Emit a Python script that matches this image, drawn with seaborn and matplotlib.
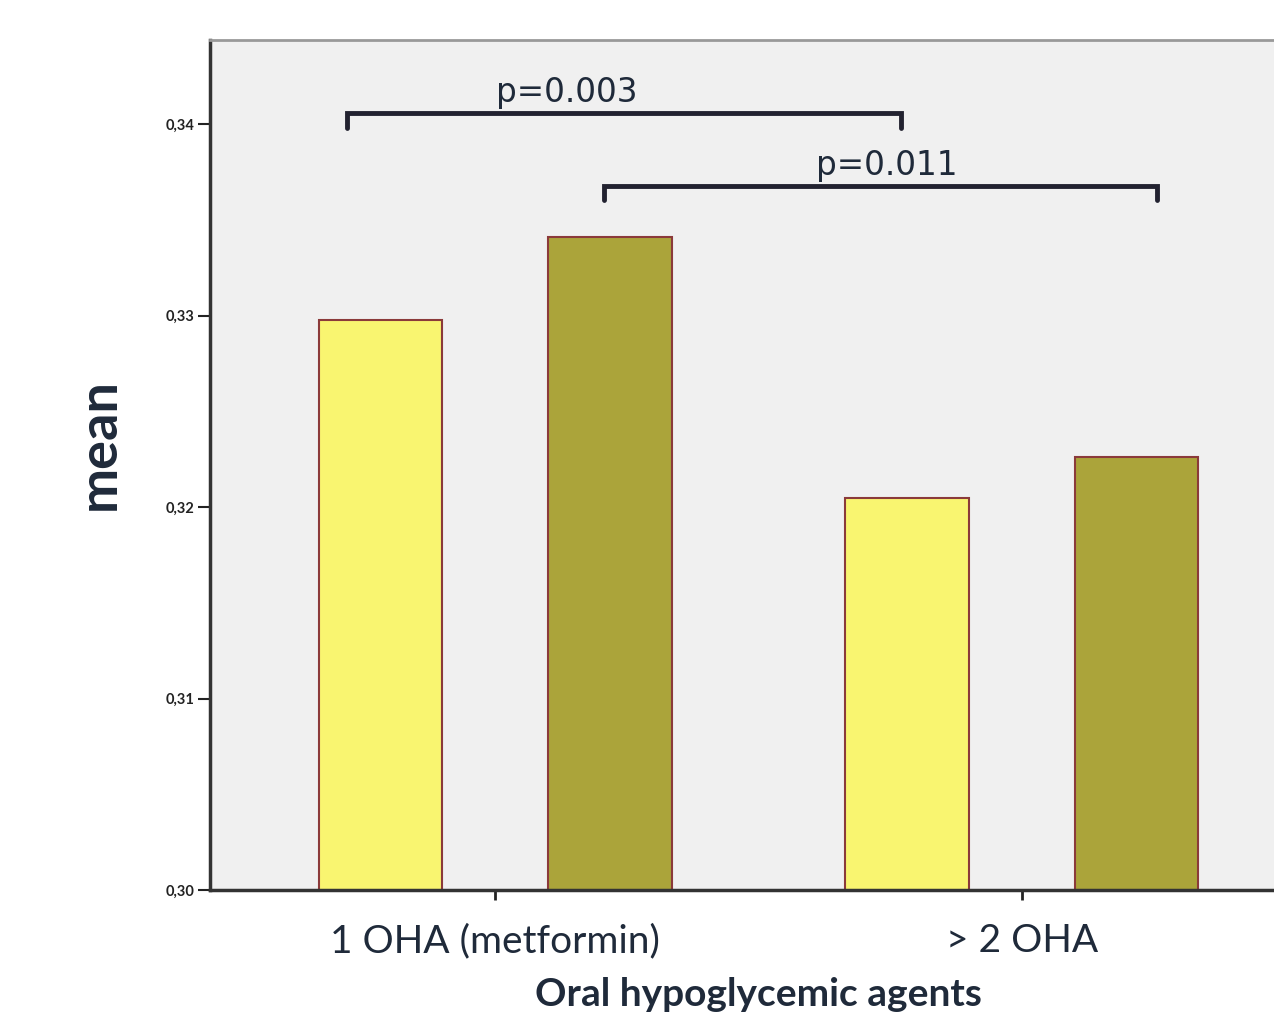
import pandas as pd
import seaborn as sns
import matplotlib.pyplot as plt

# values
groups = ['1 OHA (metformin)', '> 2 OHA']
series = ['A', 'B']
means_a = [0.3298, 0.3205]
means_b = [0.3341, 0.3226]
y_ticks = [0.30, 0.31, 0.32, 0.33, 0.34]
y_tick_labels = ['0,30', '0,31', '0,32', '0,33', '0,34']
p_labels = ['p=0.003', 'p=0.011']

df = pd.DataFrame({
    'group': groups * 2,
    'series': [series[0]] * 2 + [series[1]] * 2,
    'mean': means_a + means_b,
})

sns.set_style('white')
plt.rcParams['font.family'] = ['Lato', 'DejaVu Sans']

fig = plt.figure(figsize=(12.74, 10.23), dpi=100)
ax = fig.add_axes([210 / 1274, 133 / 1023, 1097 / 1274, 850 / 1023])
ax.set_facecolor('#f0f0f0')

sns.barplot(data=df, x='group', y='mean', hue='series', order=groups,
            hue_order=series, palette=['#f9f570', '#aba43a'], saturation=1,
            width=0.87, gap=0.46, edgecolor='#8b3a3a', linewidth=1.5,
            legend=False, ax=ax)

ax.set_ylim(0.30, 0.3444)
ax.set_xlim(-0.541, 1.541)
ax.set_yticks(y_ticks)
ax.set_yticklabels(y_tick_labels, fontsize=10.5, color='#222222', fontweight='bold')
ax.tick_params(axis='y', direction='out', length=9, width=1.5, color='#222222', pad=2, left=True)
ax.tick_params(axis='x', direction='out', length=7, width=2, color='#222222', labelsize=28,
               labelcolor='#1f2a3a', pad=17, bottom=True)

for side in ['left', 'bottom']:
    ax.spines[side].set_color('#333333')
    ax.spines[side].set_linewidth(2.5)
ax.spines['top'].set_color('#999999')
ax.spines['top'].set_linewidth(2)
ax.spines['right'].set_visible(False)

ax.set_xlabel('Oral hypoglycemic agents', fontsize=28, fontweight='bold', color='#1f2a3a', labelpad=13)
ax.set_ylabel('mean', fontsize=39, fontweight='bold', color='#1f2a3a')
ax.yaxis.set_label_coords(-0.079, 0.525)

# significance brackets
brackets = [(-0.281, 0.770, 0.34057, 0.3398, p_labels[0], 0.137),
            (0.207, 1.256, 0.33676, 0.33603, p_labels[1], 0.743)]
for x0, x1, ytop, ybot, lab, xt in brackets:
    ax.plot([x0, x0, x1, x1], [ybot, ytop, ytop, ybot], color='#222230', linewidth=3.5,
            solid_joinstyle='miter', clip_on=False)
    ax.text(xt, ytop + 0.0002, lab, fontsize=23.5, color='#1f2a3a', ha='center', va='bottom',
            family=['DejaVu Sans'])

fig.savefig('out.png', dpi=100)
